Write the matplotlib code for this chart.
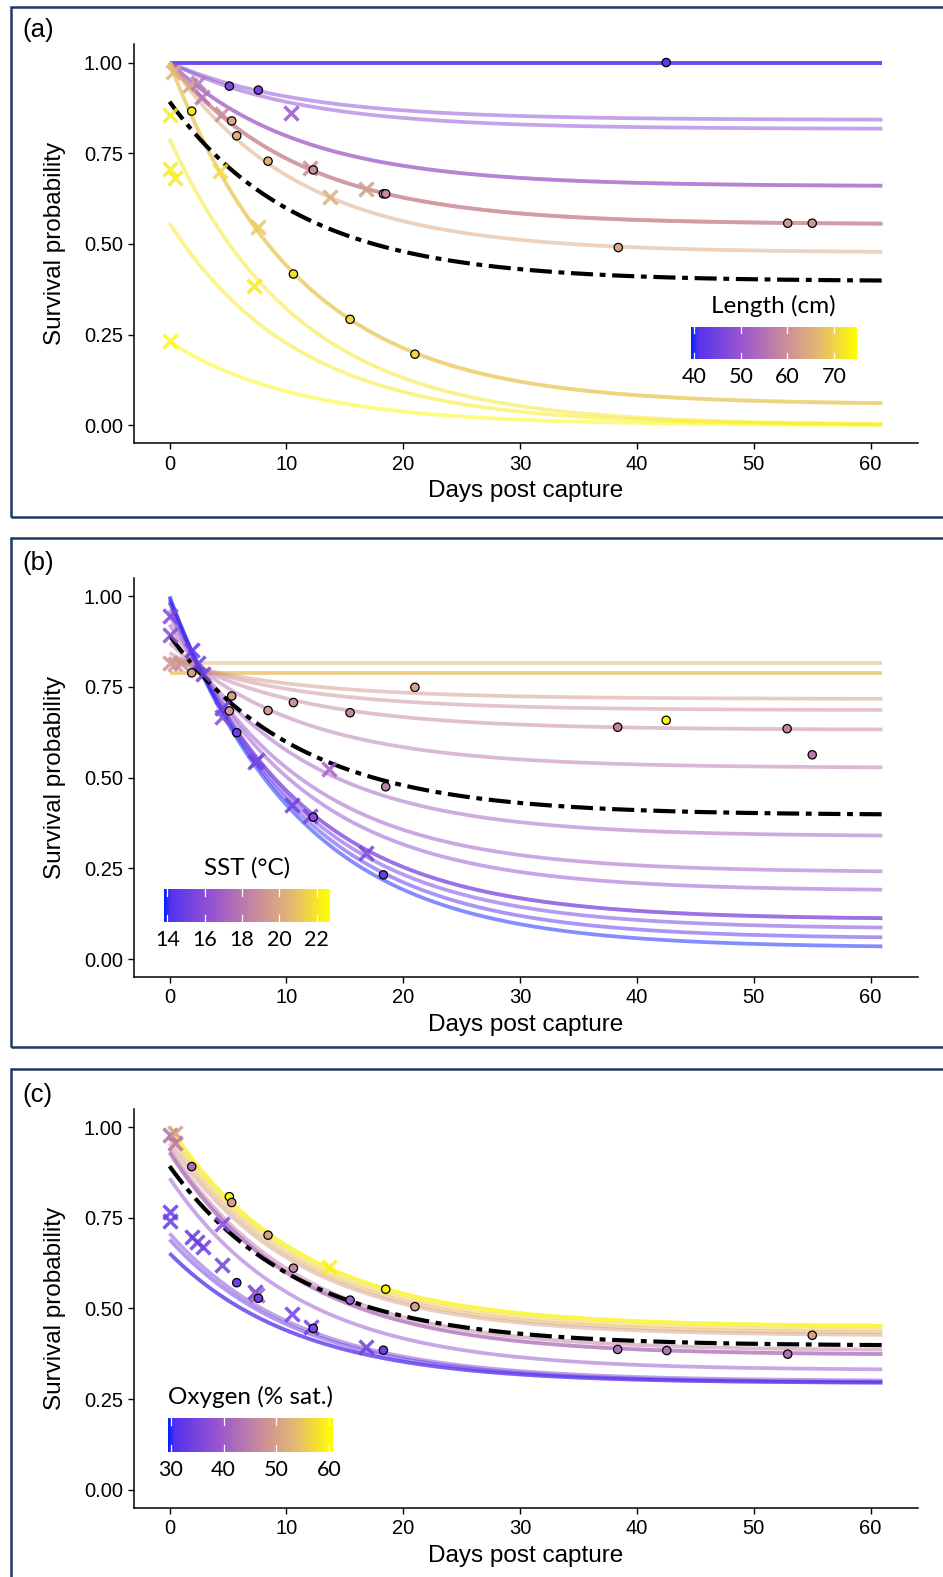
import numpy as np
import matplotlib
matplotlib.use("Agg")
import matplotlib.pyplot as plt
from matplotlib.colors import LinearSegmentedColormap, Normalize
from matplotlib.patches import Rectangle

plt.rcParams['font.family'] = ['Liberation Sans', 'DejaVu Sans']

W, H = 943, 1577

# fitted survival curves: S(t) = plateau + (start - plateau) * exp(-rate * t)
t_max = 61
decay_rate = 0.09

# overall model curve (dash-dot, same in every panel)
mean_start = 0.892
mean_plateau = 0.397

# ---- (a) Length (cm)
len_range = (39.23, 74.86)
len_ticks = [40, 50, 60, 70]
len_curve_start = [1.0, 1.0, 1.0, 1.0, 1.0, 1.0, 1.0, 0.79, 0.557, 0.23]
len_curve_plateau = [1.0, 0.842, 0.817, 0.659, 0.554, 0.476, 0.057, 0.0, 0.0, 0.0]
len_curve_value = [41.5, 48, 48.5, 51.5, 60.0, 64, 68.5, 72, 72.5, 74]
len_curve_count = [3, 1, 1, 2, 3, 1, 2, 1, 1, 1]

len_circ_t = [42.5, 5.12, 7.6, 1.9, 5.32, 5.75, 8.43, 12.3, 18.3, 18.5, 10.6, 15.45, 21.0, 52.9, 55.0, 38.4]
len_circ_y = [1.0, 0.935, 0.924, 0.866, 0.839, 0.798, 0.728, 0.704, 0.638, 0.638, 0.417, 0.292, 0.196, 0.557, 0.557, 0.49]
len_circ_v = [42, 47, 46, 72, 64, 65, 65, 60, 58, 59, 71, 70, 70, 61, 61, 64]

len_x_t = [0.0, 0.0, 0.47, 0.0, 4.3, 7.55, 7.23, 10.4, 0.33, 1.75, 2.4, 2.75, 4.47, 12.0, 16.8, 13.7]
len_x_y = [0.855, 0.706, 0.681, 0.232, 0.701, 0.547, 0.384, 0.862, 0.975, 0.938, 0.943, 0.906, 0.858, 0.708, 0.651, 0.630]
len_x_v = [73, 73, 72.5, 74.5, 71, 69, 72, 50, 66, 64, 56, 55, 59, 59, 62, 65]

# ---- (b) SST (°C)
sst_range = (13.82, 22.67)
sst_ticks = [14, 16, 18, 20, 22]
sst_curve_start = [0.817, 0.788, 0.822, 0.830, 0.844, 0.872, 0.922, 0.948, 0.962, 0.983, 0.990, 0.997, 1.0]
sst_curve_plateau = [0.817, 0.788, 0.717, 0.686, 0.632, 0.527, 0.338, 0.239, 0.188, 0.109, 0.083, 0.056, 0.031]
sst_curve_value = [20.4, 20.9, 19.4, 19.0, 18.5, 18.0, 17.0, 16.6, 16.4, 15.6, 15.2, 14.4, 13.9]
sst_curve_count = [1, 2, 1, 1, 1, 1, 1, 1, 1, 2, 1, 1, 1]

sst_circ_t = [1.9, 5.32, 5.12, 5.75, 8.43, 10.6, 15.45, 21.0, 18.5, 12.3, 18.3, 38.35, 42.5, 52.85, 55.0]
sst_circ_y = [0.789, 0.725, 0.684, 0.624, 0.685, 0.707, 0.679, 0.749, 0.475, 0.391, 0.232, 0.639, 0.658, 0.635, 0.563]
sst_circ_v = [19.5, 19.5, 19.3, 15.0, 19.3, 19.0, 18.7, 19.8, 18.3, 16.0, 14.8, 18.5, 22.4, 18.5, 18.0]

sst_x_t = [0.0, 0.0, 0.0, 0.5, 1.0, 1.9, 2.47, 2.84, 4.47, 4.47, 7.3, 7.45, 13.68, 10.46, 12.0, 16.8]
sst_x_y = [0.946, 0.893, 0.815, 0.812, 0.815, 0.852, 0.817, 0.786, 0.691, 0.668, 0.544, 0.55, 0.523, 0.425, 0.394, 0.292]
sst_x_v = [15.6, 16.0, 19.2, 19.4, 19.0, 14.8, 15.0, 15.2, 15.0, 15.8, 15.0, 15.5, 17.0, 15.0, 15.6, 15.4]

# ---- (c) Oxygen (% sat.)
oxy_range = (29.55, 60.66)
oxy_ticks = [30, 40, 50, 60]
oxy_curve_start = [1.0, 0.985, 0.970, 0.955, 0.940, 0.930, 0.859, 0.707, 0.690, 0.652]
oxy_curve_plateau = [0.450, 0.440, 0.432, 0.425, 0.384, 0.372, 0.330, 0.300, 0.296, 0.294]
oxy_curve_value = [59.5, 56, 53, 50, 45, 42.5, 39, 37, 33, 31.0]
oxy_curve_count = [2, 1, 1, 1, 1, 2, 1, 1, 1, 2]

oxy_circ_t = [1.9, 5.12, 5.32, 8.43, 5.75, 7.6, 10.6, 12.3, 15.45, 18.5, 21.0, 18.3, 38.35, 42.55, 52.9, 55.0]
oxy_circ_y = [0.891, 0.808, 0.792, 0.702, 0.571, 0.528, 0.611, 0.445, 0.523, 0.553, 0.505, 0.385, 0.387, 0.384, 0.374, 0.426]
oxy_circ_v = [42, 60, 50, 50, 34, 34, 46, 36, 40, 60, 50, 34, 43, 43, 43, 50]

oxy_x_t = [0.0, 0.47, 0.47, 0.0, 0.0, 1.9, 2.38, 2.84, 4.47, 4.47, 7.32, 7.45, 10.46, 12.08, 16.8, 13.68]
oxy_x_y = [0.978, 0.983, 0.955, 0.767, 0.742, 0.698, 0.684, 0.670, 0.733, 0.620, 0.546, 0.538, 0.485, 0.450, 0.393, 0.615]
oxy_x_v = [43, 50, 44, 33, 33, 33, 34, 34, 36, 34, 33, 40, 34, 34, 34, 59]

cmap = LinearSegmentedColormap.from_list("len", [
    (0.0, "#0022ff"), (0.04, "#5533ee"), (0.3, "#9955d0"),
    (0.55, "#c88a9f"), (0.78, "#e6ba70"), (1.0, "#ffff00")])

BORDER = "#1f3864"
LEGEND_FONT = ['Lato', 'DejaVu Sans']
fig = plt.figure(figsize=(W / 100, H / 100), dpi=100)


def px_axes(left, top, right, bottom):
    return fig.add_axes([left / W, 1 - bottom / H, (right - left) / W, (bottom - top) / H])


def survival(t, s0, plat):
    return plat + (s0 - plat) * np.exp(-decay_rate * t)


def draw_panel(top, bottom, starts, plats, vals, counts, ct, cy, cv, xt, xy, xv, vrange):
    ax = px_axes(133.9, top, 918, bottom)
    norm = Normalize(*vrange)
    t = np.linspace(0, t_max, 300)
    for s0, pl, v, n in zip(starts, plats, vals, counts):
        for _ in range(n):
            ax.plot(t, survival(t, s0, pl), color=cmap(norm(v)), lw=2.7, alpha=0.52,
                    solid_capstyle='butt', zorder=2)
    ax.plot(t, survival(t, mean_start, mean_plateau), color='black', lw=3.0,
            linestyle=(0, (5.3, 1.6, 1.4, 1.6)), zorder=3)
    for x, y, v in zip(xt, xy, xv):
        ax.plot(x, y, marker='x', ms=9.5, mew=2.5, color=cmap(norm(v)), alpha=0.85,
                linestyle='none', zorder=4)
    ax.scatter(ct, cy, s=36, c=[cmap(norm(v)) for v in cv], edgecolors='black',
               linewidths=0.9, zorder=5)
    ax.set_xlim(-3.05, 64.05)
    ax.set_ylim(-0.05, 1.05)
    ax.set_xticks([0, 10, 20, 30, 40, 50, 60])
    ax.set_yticks([0, 0.25, 0.5, 0.75, 1.0])
    ax.set_yticklabels(["0.00", "0.25", "0.50", "0.75", "1.00"])
    for s in ['top', 'right']:
        ax.spines[s].set_visible(False)
    for s in ['left', 'bottom']:
        ax.spines[s].set_linewidth(1.1)
    ax.tick_params(axis='both', labelsize=14.5, length=4, width=1.0, pad=4, colors='black')
    ax.set_xlabel("Days post capture", fontsize=17.5, labelpad=5)
    ax.set_ylabel("Survival probability", fontsize=17.5, labelpad=13)
    return ax


def draw_colorbar(left, top, right, bottom, vrange, ticks, title):
    cax = px_axes(left, top, right, bottom)
    grad = np.linspace(vrange[0], vrange[1], 256).reshape(1, -1)
    cax.imshow(grad, cmap=cmap, norm=Normalize(*vrange), aspect='auto',
               extent=[vrange[0], vrange[1], 0, 1])
    for v in ticks:
        cax.plot([v, v], [0, 0.2], color='white', lw=0.9)
        cax.plot([v, v], [0.8, 1.0], color='white', lw=0.9)
    cax.set_xlim(*vrange)
    cax.set_ylim(0, 1)
    cax.set_axis_off()
    h = bottom - top
    for v in ticks:
        cax.text(v, -18 / h, str(v), ha='center', va='center', fontsize=15.5,
                 family=LEGEND_FONT)
    cax.text(0.5, 1 + 21 / h, title, transform=cax.transAxes, ha='center', va='center',
             fontsize=17.5, family=LEGEND_FONT)


panels = [
    (7, 517, 30, "(a)"),
    (538, 1047, 563, "(b)"),
    (1069, 1582, 1095, "(c)"),
]
for btop, bbot, ly, lab in panels:
    fig.patches.append(Rectangle((11 / W, 1 - bbot / H), (960 - 11) / W, (bbot - btop) / H,
                                 transform=fig.transFigure, fill=False, edgecolor=BORDER,
                                 lw=1.8, zorder=0))
    fig.text(22 / W, 1 - ly / H, lab, fontsize=18.5, ha='left', va='center')

draw_panel(44.4, 443.4, len_curve_start, len_curve_plateau, len_curve_value, len_curve_count,
           len_circ_t, len_circ_y, len_circ_v, len_x_t, len_x_y, len_x_v, len_range)
draw_colorbar(690.7, 326.7, 856.7, 359.3, len_range, len_ticks, "Length (cm)")

draw_panel(578.1, 977.2, sst_curve_start, sst_curve_plateau, sst_curve_value, sst_curve_count,
           sst_circ_t, sst_circ_y, sst_circ_v, sst_x_t, sst_x_y, sst_x_v, sst_range)
draw_colorbar(164, 889.3, 329.3, 921.7, sst_range, sst_ticks, "SST (°C)")

draw_panel(1108.9, 1508, oxy_curve_start, oxy_curve_plateau, oxy_curve_value, oxy_curve_count,
           oxy_circ_t, oxy_circ_y, oxy_circ_v, oxy_x_t, oxy_x_y, oxy_x_v, oxy_range)
draw_colorbar(168.3, 1418.3, 332.7, 1451.7, oxy_range, oxy_ticks, "Oxygen (% sat.)")

fig.savefig("out.png", dpi=100)
